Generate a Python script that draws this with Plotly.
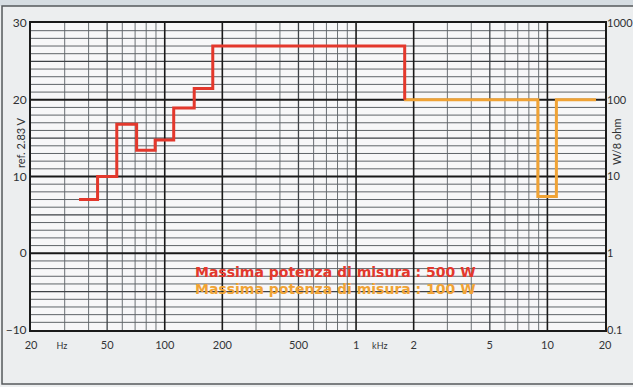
import plotly.graph_objects as go

# Third-octave bands and maximum test power (W into 8 ohm)
red_bands_hz = [40, 50, 63, 80, 100, 125, 160, 200, 250, 315, 400, 500,
                630, 800, 1000, 1250, 1600]
red_power_w = [5, 10, 48, 22, 30, 78, 140, 500, 500, 500, 500, 500,
               500, 500, 500, 500, 500]
orange_bands_hz = [2000, 2500, 3150, 4000, 5000, 6300, 8000, 10000, 12500, 16000]
orange_power_w = [100, 100, 100, 100, 100, 100, 100, 5.5, 100, 100]

x_ticks = [20, 29, 50, 100, 200, 500, 1000, 1330, 2000, 5000, 10000, 20000]
x_ticktext = ["20", "<span style='font-size:9px'>Hz</span>", "50", "100", "200",
              "500", "1", "<span style='font-size:9px'>kHz</span>", "2", "5", "10", "20"]
db_ticks = [-10, 0, 10, 20, 30]
w_ticks = [0.1, 1, 10, 100, 1000]
w_ticktext = ["0.1", "1", "10", "100", "1000"]

RED = "#e3382c"
ORANGE = "#f0a335"
HALF_BAND = 10 ** 0.05  # third-octave half-band ratio

F_MIN, F_MAX = 20, 20000
DB_MIN, DB_MAX = -10, 30


def band_steps(bands, values, end_value):
    xs = [b / HALF_BAND for b in bands] + [bands[-1] * HALF_BAND]
    ys = list(values) + [end_value]
    return xs, ys


def vlines(freqs):
    xs, ys = [], []
    for f in freqs:
        xs += [f, f, None]
        ys += [DB_MIN, DB_MAX, None]
    return xs, ys


def hlines(levels):
    xs, ys = [], []
    for v in levels:
        xs += [F_MIN, F_MAX, None]
        ys += [v, v, None]
    return xs, ys


# grid positions
all_f = [k * d for d in (10, 100, 1000, 10000) for k in range(1, 10)
         if F_MIN < k * d < F_MAX]
major_f = [100, 200, 1000, 2000, 10000]
mid_f = [50, 500, 5000]
minor_f = [f for f in all_f if f not in major_f and f not in mid_f]

all_db = list(range(DB_MIN + 1, DB_MAX))
major_db = [0, 10, 20]
mid_db = [-5, 5, 15, 25]
minor_db = [v for v in all_db if v not in major_db and v not in mid_db]

fig = go.Figure()


def add_grid(xs, ys, color, width):
    fig.add_trace(go.Scatter(x=xs, y=ys, mode="lines", hoverinfo="skip",
                             line=dict(color=color, width=width),
                             showlegend=False, xaxis="x", yaxis="y"))


add_grid(*vlines(minor_f), "#6c7175", 1)
add_grid(*hlines(minor_db), "#5f6468", 1)
add_grid(*hlines(mid_db), "#3e4246", 1.2)
add_grid(*vlines(mid_f), "#3e4246", 1.3)
add_grid(*hlines(major_db), "#1a1a1a", 1.8)
add_grid(*vlines(major_f), "#1a1a1a", 1.6)

rx, ry = band_steps(red_bands_hz, red_power_w, orange_power_w[0])
ox, oy = band_steps(orange_bands_hz, orange_power_w, orange_power_w[-1])

fig.add_trace(go.Scatter(x=ox, y=oy, mode="lines", line_shape="hv",
                         line=dict(color=ORANGE, width=3),
                         name="100 W", showlegend=False, xaxis="x", yaxis="y2"))
fig.add_trace(go.Scatter(x=rx, y=ry, mode="lines", line_shape="hv",
                         line=dict(color=RED, width=3),
                         name="500 W", showlegend=False, xaxis="x", yaxis="y2"))

tick_font = dict(family="Lato, DejaVu Sans, sans-serif", size=12, color="#2f3133")
right_font = dict(family="Lato, DejaVu Sans, sans-serif", size=11, color="#2f3133")

fig.update_layout(
    width=633, height=387,
    margin=dict(l=31, r=28, t=23, b=57),
    paper_bgcolor="#eceeef",
    plot_bgcolor="#f7f7f8",
    showlegend=False,
    xaxis=dict(type="log", range=[1.30103, 4.30103], tickvals=x_ticks,
               ticktext=x_ticktext, showgrid=False, zeroline=False,
               ticks="", ticklabelstandoff=4, automargin=False,
               tickfont=dict(family="Lato, DejaVu Sans, sans-serif", size=11, color="#333537"),
               showline=True, linecolor="#1a1a1a", linewidth=2, mirror=True),
    yaxis=dict(range=[DB_MIN, DB_MAX], tickvals=db_ticks, showgrid=False,
               zeroline=False, ticks="", tickfont=tick_font, automargin=False,
               showline=True, linecolor="#1a1a1a", linewidth=2, mirror=True),
    yaxis2=dict(type="log", range=[-1, 3], overlaying="y", side="right",
                tickvals=w_ticks, ticktext=w_ticktext, showgrid=False,
                zeroline=False, ticks="", ticklabelstandoff=1, automargin=False,
                tickfont=right_font),
    shapes=[
        dict(type="rect", xref="paper", yref="paper", x0=-0.1, x1=1.1,
             y0=1.0554, y1=1.09, fillcolor="#d6dde2", line=dict(width=0),
             layer="below"),
        dict(type="rect", xref="paper", yref="paper", x0=-0.0505, x1=1.08,
             y0=-0.1759, y1=1.0554, fillcolor="rgba(0,0,0,0)",
             line=dict(color="#55595c", width=1.5), layer="below"),
    ],
    annotations=[
        dict(text="ref. 2.83 V", xref="paper", yref="paper", x=-0.0192, y=0.612,
             textangle=-90, showarrow=False, xanchor="center", yanchor="middle",
             font=dict(family="Lato, DejaVu Sans, sans-serif", size=11, color="#2f3133")),
        dict(text="W/8 ohm", xref="paper", yref="paper", x=1.019, y=0.612,
             textangle=-90, showarrow=False, xanchor="center", yanchor="middle",
             font=dict(family="Lato, DejaVu Sans, sans-serif", size=11, color="#2f3133")),
        dict(text="<b>Massima potenza di misura : 500 W</b>", xref="paper", yref="paper",
             x=0.282, y=0.189, xanchor="left", yanchor="middle", showarrow=False,
             font=dict(family="DejaVu Sans", size=14, color=RED)),
        dict(text="<b>Massima potenza di misura : 100 W</b>", xref="paper", yref="paper",
             x=0.282, y=0.134, xanchor="left", yanchor="middle", showarrow=False,
             font=dict(family="DejaVu Sans", size=14, color=ORANGE)),
    ],
)

fig.write_html("out.html")
